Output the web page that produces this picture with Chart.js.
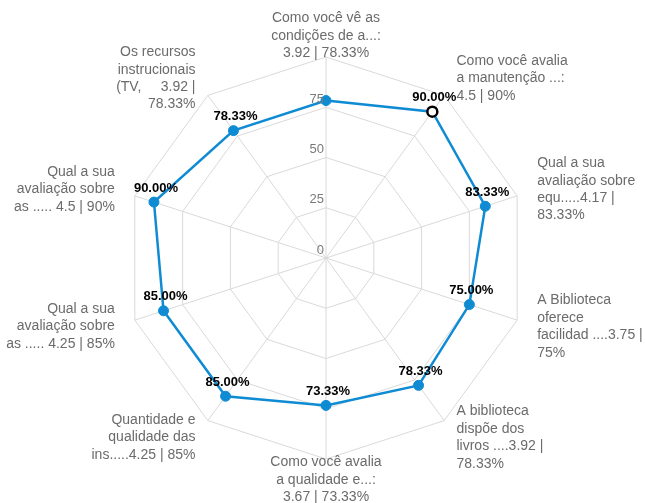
<!DOCTYPE html>
<html>
<head>
<meta charset="utf-8">
<script src="https://cdn.jsdelivr.net/npm/chart.js@4/dist/chart.umd.min.js"></script>
<style>
  html, body { margin: 0; padding: 0; background: #fff; }
  canvas { display: block; }
</style>
</head>
<body>
<canvas id="radar" width="645" height="503"></canvas>
<script>
// Question labels (already wrapped the way the source shows them)
const questionLabels = [
  ['Como você vê as', 'condições de a...:', '3.92 | 78.33%'],
  ['Como você avalia', 'a manutenção ...:', '4.5 | 90%'],
  ['Qual a sua', 'avaliação sobre', 'equ.....4.17 |', '83.33%'],
  ['A Biblioteca', 'oferece', 'facilidad ....3.75 |', '75%'],
  ['A biblioteca', 'dispõe dos', 'livros ....3.92 |', '78.33%'],
  ['Como você avalia', 'a qualidade e...:', '3.67 | 73.33%'],
  ['Quantidade e', 'qualidade das', 'ins.....4.25 | 85%'],
  ['Qual a sua', 'avaliação sobre', 'as ..... 4.25 | 85%'],
  ['Qual a sua', 'avaliação sobre', 'as ..... 4.5 | 90%'],
  ['Os recursos', 'instrucionais', '(TV,     3.92 |', '78.33%'],
];

// Percent score for each question
const percentValues = [78.33, 90, 83.33, 75, 78.33, 73.33, 85, 85, 90, 78.33];

// Scale tick labels shown on the vertical axis
const tickValues = [0, 25, 50, 75];

// Point that is drawn highlighted (hollow marker) and value labels that are hidden
const highlightIndex = 1;
const hiddenValueLabels = [0];

const LINE_BLUE = '#0f8bd3';

// draws tick labels, value labels and the wrapped question labels
const radarTextPlugin = {
  id: 'radarText',
  afterDatasetsDraw(chart) {
    const ctx = chart.ctx;
    const scale = chart.scales.r;
    const meta = chart.getDatasetMeta(0);

    ctx.save();
    // tick labels, left of the top axis and a bit above each ring
    ctx.font = '13px "Liberation Sans", Arial, sans-serif';
    ctx.fillStyle = '#7a7a7a';
    ctx.textAlign = 'right';
    ctx.textBaseline = 'middle';
    tickValues.forEach((v) => {
      const y = scale.yCenter - scale.getDistanceFromCenterForValue(v);
      ctx.fillText(String(v), scale.xCenter - 2, y - 8);
    });

    // value labels over the points
    ctx.font = 'bold 13px "Liberation Sans", Arial, sans-serif';
    ctx.fillStyle = '#000';
    ctx.textAlign = 'center';
    meta.data.forEach((pt, i) => {
      if (hiddenValueLabels.includes(i)) return;
      ctx.fillText(percentValues[i].toFixed(2) + '%', pt.x + 2, pt.y - 14);
    });

    // question labels around the web
    ctx.font = '14px "Liberation Sans", Arial, sans-serif';
    ctx.fillStyle = '#6b6b6b';
    const lineH = 17.4;
    questionLabels.forEach((lines, i) => {
      const pos = scale.getPointPosition(i, scale.drawingArea + 21);
      const dx = pos.x - scale.xCenter;
      ctx.textAlign = Math.abs(dx) < 5 ? 'center' : dx > 0 ? 'left' : 'right';
      const top = pos.y - ((lines.length - 1) * lineH) / 2;
      lines.forEach((line, k) => {
        ctx.fillText(line, pos.x, top + k * lineH);
      });
    });
    ctx.restore();
  },
};

const canvas = document.getElementById('radar');
const ctx = canvas.getContext('2d');

canvas.radarChart = new Chart(ctx, {
  type: 'radar',
  data: {
    labels: questionLabels,
    datasets: [
      {
        data: percentValues,
        borderColor: LINE_BLUE,
        borderWidth: 2.5,
        backgroundColor: 'rgba(0,0,0,0)',
        fill: false,
        pointRadius: 5,
        pointBackgroundColor: percentValues.map((_, i) => (i === highlightIndex ? '#fff' : LINE_BLUE)),
        pointBorderColor: percentValues.map((_, i) => (i === highlightIndex ? '#000' : LINE_BLUE)),
        pointBorderWidth: percentValues.map((_, i) => (i === highlightIndex ? 2.5 : 1)),
      },
    ],
  },
  options: {
    responsive: false,
    animation: false,
    layout: { padding: { top: 57, bottom: 44, left: 125, right: 118 } },
    plugins: {
      legend: { display: false },
      tooltip: { enabled: false },
    },
    scales: {
      r: {
        min: 0,
        max: 100,
        ticks: { display: false, stepSize: 25 },
        grid: { color: '#d9d9d9', lineWidth: 1 },
        angleLines: { color: '#d9d9d9', lineWidth: 1 },
        pointLabels: { display: false },
      },
    },
  },
  plugins: [radarTextPlugin],
});
</script>
</body>
</html>
